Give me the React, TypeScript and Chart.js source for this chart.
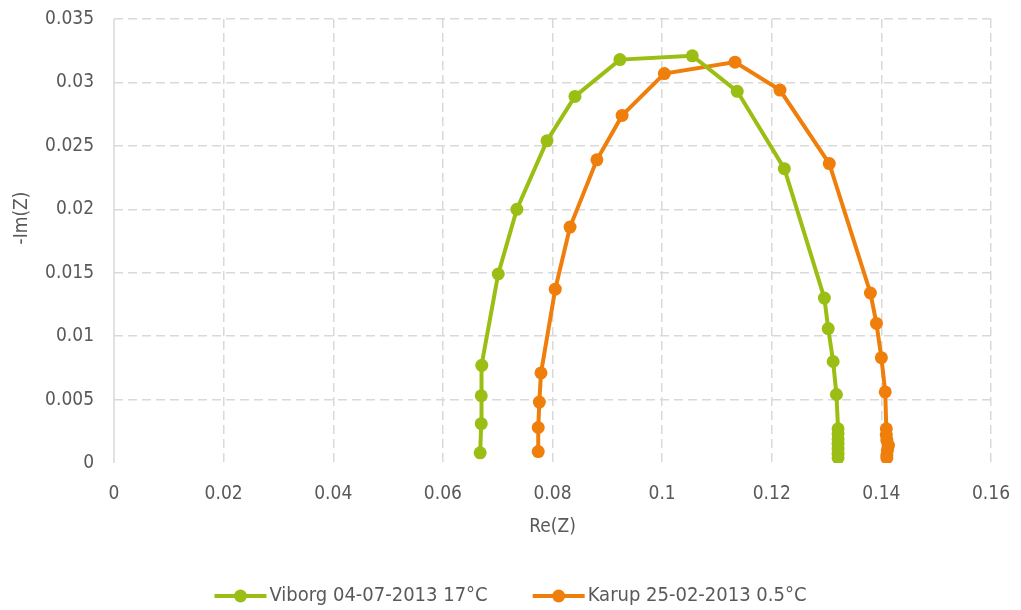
import React, { useEffect, useRef } from "react";
import { Chart, registerables } from "chart.js";

Chart.register(...registerables);

const viborgLabel = "Viborg 04-07-2013 17°C";
const viborgRe = [0.0668, 0.0670, 0.0670, 0.0671, 0.0701, 0.0735, 0.0790, 0.0841, 0.0923, 0.1055, 0.1137, 0.1223, 0.1296, 0.1303, 0.1312, 0.1318, 0.1321, 0.1321, 0.1321, 0.1321, 0.1321, 0.1321, 0.1321];
const viborgIm = [0.0008, 0.0031, 0.0053, 0.0077, 0.0149, 0.0200, 0.0254, 0.0289, 0.0318, 0.0321, 0.0293, 0.0232, 0.0130, 0.0106, 0.0080, 0.0054, 0.0027, 0.0023, 0.0019, 0.0015, 0.0011, 0.0007, 0.0004];

const karupLabel = "Karup 25-02-2013 0.5°C";
const karupRe = [0.0774, 0.0774, 0.0776, 0.0779, 0.0805, 0.0832, 0.0881, 0.0927, 0.1004, 0.1133, 0.1215, 0.1305, 0.1380, 0.1391, 0.1400, 0.1407, 0.1409, 0.1409, 0.1410, 0.1413, 0.1411, 0.1410, 0.1410];
const karupIm = [0.0009, 0.0028, 0.0048, 0.0071, 0.0137, 0.0186, 0.0239, 0.0274, 0.0307, 0.0316, 0.0294, 0.0236, 0.0134, 0.0110, 0.0083, 0.0056, 0.0027, 0.0022, 0.0018, 0.0014, 0.0010, 0.0006, 0.0004];

const xTitle = "Re(Z)";
const yTitle = "-Im(Z)";
const xMin = 0, xMax = 0.16, xStep = 0.02;
const yMin = 0, yMax = 0.035, yStep = 0.005;

const GREEN = "#9BBE14";
const ORANGE = "#EF7E0A";
const TEXT = "#595959";
const GRID = "#D9D9D9";
const FONT = "'DejaVu Sans Condensed', 'DejaVu Sans', sans-serif";

const toPoints = (xs: number[], ys: number[]) => xs.map((x, i) => ({ x, y: ys[i] }));
const fmt = (v: number) => String(+Number(v).toFixed(3));

const extrasPlugin = {
  id: "extras",
  beforeDatasetsDraw(chart: any) {
    const ctx = chart.ctx as CanvasRenderingContext2D;
    const { left, top, bottom } = chart.chartArea;
    ctx.save();
    ctx.setLineDash([]);
    ctx.strokeStyle = GRID;
    ctx.lineWidth = 1.5;
    ctx.beginPath();
    ctx.moveTo(left, top);
    ctx.lineTo(left, bottom);
    ctx.stroke();
    ctx.restore();
  },
  afterDraw(chart: any) {
    const ctx = chart.ctx as CanvasRenderingContext2D;
    ctx.save();
    ctx.font = `19px ${FONT}`;
    ctx.fillStyle = TEXT;
    ctx.textAlign = "center";
    ctx.textBaseline = "middle";
    ctx.translate(22, 218);
    ctx.rotate(-Math.PI / 2);
    ctx.fillText(yTitle, 0, 0);
    ctx.restore();

    ctx.save();
    const y = 596;
    const lineLen = 52;
    const gap = 3;
    const between = 45;
    ctx.font = `20px ${FONT}`;
    const items = chart.data.datasets.map((d: any) => ({
      label: d.label,
      color: d.borderColor,
      w: lineLen + gap + ctx.measureText(d.label).width,
    }));
    const total = items.reduce((s: number, it: any) => s + it.w, 0) + between * (items.length - 1);
    let x = chart.width / 2 - total / 2;
    for (const it of items) {
      ctx.strokeStyle = it.color;
      ctx.lineWidth = 4;
      ctx.beginPath();
      ctx.moveTo(x, y);
      ctx.lineTo(x + lineLen, y);
      ctx.stroke();
      ctx.fillStyle = it.color;
      ctx.beginPath();
      ctx.arc(x + lineLen / 2, y, 6.5, 0, Math.PI * 2);
      ctx.fill();
      ctx.fillStyle = TEXT;
      ctx.textAlign = "left";
      ctx.textBaseline = "middle";
      ctx.fillText(it.label, x + lineLen + gap, y);
      x += it.w + between;
    }
    ctx.restore();
  },
};

export default function App() {
  const ref = useRef<HTMLCanvasElement | null>(null);
  useEffect(() => {
    if (!ref.current) return;
    const chart = new Chart(ref.current, {
      type: "scatter",
      data: {
        datasets: [
          {
            label: viborgLabel,
            data: toPoints(viborgRe, viborgIm),
            showLine: true,
            borderColor: GREEN,
            backgroundColor: GREEN,
            borderWidth: 4,
            pointRadius: 6.5,
            pointHoverRadius: 6.5,
            pointBorderWidth: 0,
          },
          {
            label: karupLabel,
            data: toPoints(karupRe, karupIm),
            showLine: true,
            borderColor: ORANGE,
            backgroundColor: ORANGE,
            borderWidth: 4,
            pointRadius: 6.5,
            pointHoverRadius: 6.5,
            pointBorderWidth: 0,
          },
        ],
      },
      options: {
        animation: false,
        responsive: false,
        layout: { padding: { left: 0, right: 30, top: 19, bottom: 0 } },
        plugins: { legend: { display: false }, tooltip: { enabled: false } },
        scales: {
          x: {
            type: "linear",
            min: xMin,
            max: xMax,
            ticks: { stepSize: xStep, padding: 20, color: TEXT, font: { family: FONT, size: 19 }, callback: (v: any) => fmt(v) },
            grid: {
              color: (c: any) => (c.tick && c.tick.value === xMin ? "rgba(0,0,0,0)" : GRID),
              lineWidth: 1.5,
              drawTicks: false,
              tickLength: 0,
            },
            border: { display: false, dash: [9, 5] },
            title: { display: true, text: xTitle, color: TEXT, font: { family: FONT, size: 19 }, padding: { top: 0, bottom: 72 } },
            afterFit: (s: any) => { s.height = 147; s.paddingLeft = 0; s.paddingRight = 0; },
          },
          y: {
            type: "linear",
            min: yMin,
            max: yMax,
            ticks: { stepSize: yStep, padding: 20, color: TEXT, font: { family: FONT, size: 19 }, callback: (v: any) => fmt(v) },
            grid: {
              color: (c: any) => (c.tick && c.tick.value === yMin ? "rgba(0,0,0,0)" : GRID),
              lineWidth: 1.5,
              drawTicks: false,
              tickLength: 0,
            },
            border: { display: false, dash: [9, 5] },
            title: { display: false },
            afterFit: (s: any) => { s.width = 114; s.paddingTop = 0; s.paddingBottom = 0; },
          },
        },
      },
      plugins: [extrasPlugin],
    } as any);
    return () => chart.destroy();
  }, []);
  return (
    <div style={{ position: "absolute", left: 0, top: 0, width: 1021, height: 610, background: "#fff" }}>
      <canvas ref={ref} width={1021} height={610} />
    </div>
  );
}
